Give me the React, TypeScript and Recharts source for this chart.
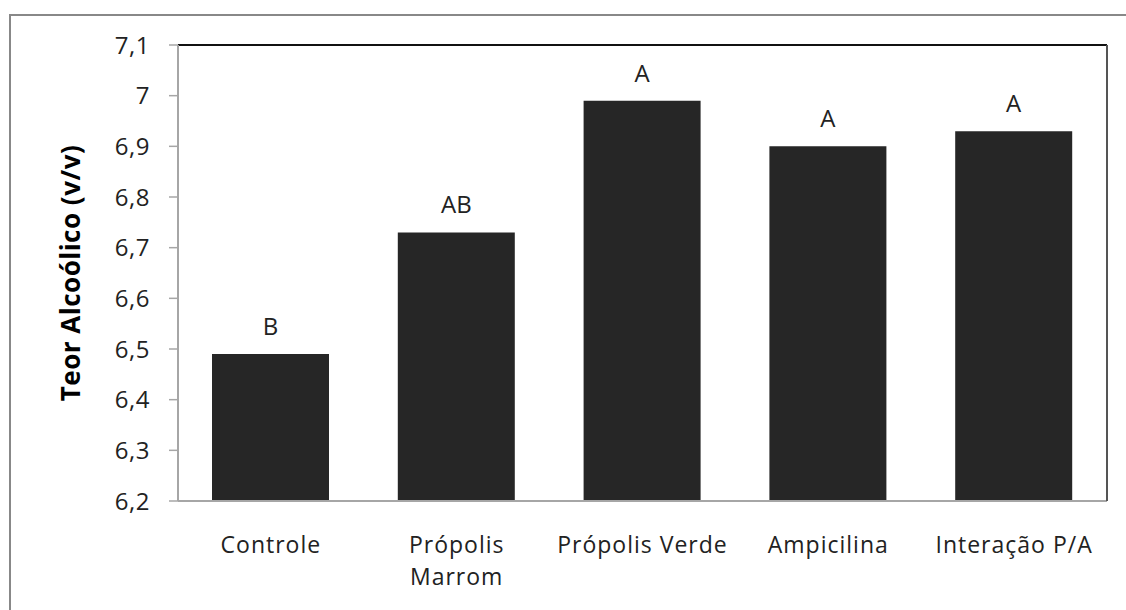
import React from 'react'
import { BarChart, Bar, XAxis, YAxis, CartesianGrid, LabelList, ReferenceLine } from 'recharts'

const categories = ['Controle', 'Própolis Marrom', 'Própolis Verde', 'Ampicilina', 'Interação P/A']
const teorValues = [6.49, 6.73, 6.99, 6.9, 6.93]
const groupLetters = ['B', 'AB', 'A', 'A', 'A']
const yTicks = [6.2, 6.3, 6.4, 6.5, 6.6, 6.7, 6.8, 6.9, 7, 7.1]

const FONT = '"Open Sans", "Noto Sans", sans-serif'

const data = categories.map((name, i) => ({
  name,
  value: teorValues[i],
  letter: groupLetters[i],
}))

const fmt = (v: number) => String(Math.round(v * 10) / 10).replace('.', ',')

// category labels, "Própolis Marrom" wraps onto two lines
const CategoryTick = (props: any) => {
  const { x, y, payload } = props
  const label: string = payload.value
  const lines = label === 'Própolis Marrom' ? ['Própolis', 'Marrom'] : [label]
  return (
    <text x={x} y={y} textAnchor="middle" fill="#222" fontSize={23} letterSpacing={1} fontFamily={FONT}>
      {lines.map((l, i) => (
        <tspan key={i} x={x} dy={i === 0 ? 44 : 32}>
          {l}
        </tspan>
      ))}
    </text>
  )
}

const App: React.FC = () => {
  return (
    <div style={{ position: 'absolute', left: 0, top: 0, width: 1126, height: 610, background: '#fff', overflow: 'hidden' }}>
      <div
        style={{
          position: 'absolute',
          left: 9,
          top: 14,
          width: 1130,
          height: 610,
          border: '2px solid #888',
        }}
      />
      <div style={{ position: 'absolute', left: 0, top: 0 }}>
        <BarChart
          width={1126}
          height={610}
          data={data}
          margin={{ top: 45, right: 18, bottom: 79, left: 0 }}
          barSize={117}
        >
          <CartesianGrid vertical={false} stroke="#a6a6a6" strokeWidth={1.5} />
          <XAxis
            dataKey="name"
            height={30}
            axisLine={{ stroke: '#a6a6a6', strokeWidth: 2 }}
            tickLine={false}
            interval={0}
            tick={<CategoryTick />}
          />
          <YAxis
            yAxisId="left"
            width={178}
            domain={[6.2, 7.1]}
            ticks={yTicks}
            tickFormatter={fmt}
            allowDataOverflow
            axisLine={{ stroke: '#a6a6a6', strokeWidth: 2 }}
            tickLine={{ stroke: '#a6a6a6', strokeWidth: 1.5 }}
            tickSize={9}
            tickMargin={19}
            tick={{ fill: '#222', fontSize: 24, fontFamily: FONT, letterSpacing: 0.5 }}
            label={{
              value: 'Teor Alcoólico (v/v)',
              angle: -90,
              position: 'insideLeft',
              offset: 71,
              style: { fontSize: 26, fontWeight: 700, fontFamily: FONT, fill: '#000', textAnchor: 'middle', letterSpacing: 0.5 },
            }}
          />
          <YAxis
            yAxisId="right"
            orientation="right"
            width={1}
            domain={[6.2, 7.1]}
            ticks={yTicks}
            tick={false}
            tickLine={false}
            axisLine={{ stroke: '#555', strokeWidth: 2 }}
          />
          <ReferenceLine yAxisId="left" y={7.1} stroke="#111" strokeWidth={2} />
          <Bar yAxisId="left" dataKey="value" fill="#262626" isAnimationActive={false}>
            <LabelList
              dataKey="letter"
              position="top"
              offset={19}
              fill="#222"
              fontSize={24}
              fontFamily={FONT}
            />
          </Bar>
        </BarChart>
      </div>
    </div>
  )
}

export default App
